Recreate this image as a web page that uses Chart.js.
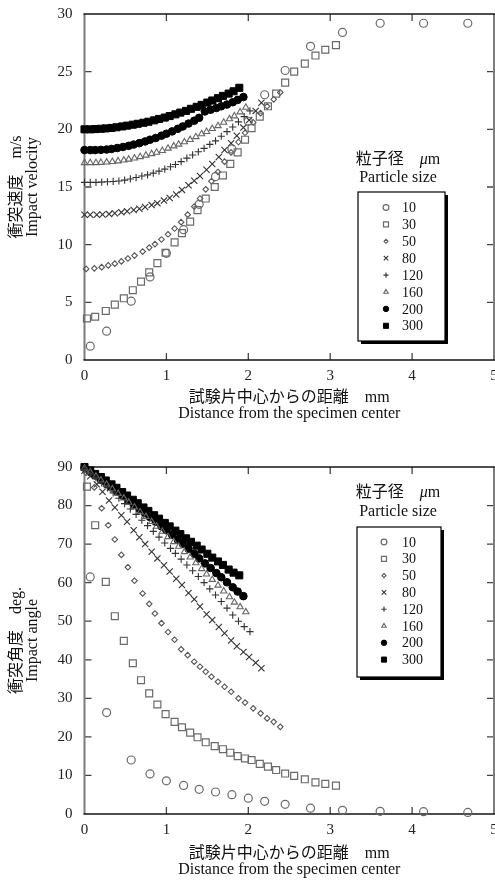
<!DOCTYPE html>
<html>
<head>
<meta charset="utf-8">
<script src="https://cdn.jsdelivr.net/npm/chart.js@4"></script>
<style>
  html, body { margin: 0; padding: 0; background: #fff; }
  body { width: 495px; height: 880px; position: relative; overflow: hidden; }
  canvas { position: absolute; left: 0; }
  #velocity-chart { top: 0; }
  #angle-chart { top: 440px; }
</style>
</head>
<body>
<canvas id="velocity-chart" width="495" height="440"></canvas>
<canvas id="angle-chart" width="495" height="440"></canvas>
<script>
// particle sizes, um
const sizes = ['10', '30', '50', '80', '120', '160', '200', '300'];

// tick values
const distTicks = [0, 1, 2, 3, 4, 5];
const velTicks = [0, 5, 10, 15, 20, 25, 30];
const angTicks = [0, 10, 20, 30, 40, 50, 60, 70, 80, 90];

// distance from specimen center (mm) / impact velocity (m/s) / impact angle (deg)
const dist10 = [0.07, 0.27, 0.57, 0.80, 1.00, 1.21, 1.40, 1.60, 1.80, 2.00, 2.20, 2.45, 2.76, 3.15, 3.61, 4.14, 4.68];
const vel10 = [1.2, 2.5, 5.1, 7.2, 9.25, 11.3, 13.5, 15.9, 18.3, 20.7, 23.0, 25.1, 27.2, 28.4, 29.2, 29.2, 29.2];
const ang10 = [61.5, 26.3, 14.0, 10.4, 8.6, 7.4, 6.4, 5.7, 5.0, 4.1, 3.3, 2.5, 1.5, 0.95, 0.7, 0.6, 0.4];

const dist30 = [0.03, 0.13, 0.26, 0.37, 0.48, 0.59, 0.69, 0.79, 0.89, 0.99, 1.10, 1.19, 1.29, 1.38, 1.48, 1.59, 1.69, 1.78, 1.87, 1.96, 2.04, 2.14, 2.24, 2.34, 2.45, 2.56, 2.69, 2.82, 2.94, 3.07];
const vel30 = [3.6, 3.75, 4.25, 4.8, 5.35, 6.05, 6.8, 7.6, 8.4, 9.3, 10.2, 11.0, 12.0, 13.0, 14.0, 15.0, 16.0, 17.0, 18.0, 19.1, 20.1, 21.1, 22.0, 23.1, 24.05, 25.0, 25.7, 26.4, 26.9, 27.3];
const ang30 = [84.9, 74.9, 60.2, 51.3, 44.9, 39.1, 34.7, 31.3, 28.4, 25.9, 23.9, 22.5, 21.1, 19.9, 18.6, 17.6, 16.8, 15.9, 15.0, 14.4, 14.0, 13.0, 12.3, 11.4, 10.5, 9.9, 9.0, 8.2, 7.8, 7.35];

const dist50 = [0.02, 0.12, 0.21, 0.29, 0.37, 0.45, 0.53, 0.61, 0.71, 0.79, 0.86, 0.94, 1.02, 1.10, 1.18, 1.26, 1.34, 1.41, 1.48, 1.55, 1.63, 1.71, 1.79, 1.88, 1.96, 2.06, 2.15, 2.23, 2.31, 2.39];
const vel50 = [7.9, 7.95, 8.05, 8.2, 8.35, 8.55, 8.8, 9.05, 9.4, 9.75, 10.05, 10.45, 10.9, 11.4, 11.95, 12.6, 13.3, 14.0, 14.8, 15.5, 16.3, 17.2, 18.0, 18.9, 19.7, 20.6, 21.4, 22.0, 22.6, 23.2];
const ang50 = [88.5, 84.7, 79.3, 74.9, 71.2, 67.2, 64.0, 60.5, 57.2, 54.5, 52.0, 49.5, 47.2, 45.2, 42.7, 41.2, 39.5, 38.2, 36.9, 35.6, 34.3, 33.0, 31.7, 30.0, 28.9, 27.4, 26.1, 24.8, 23.9, 22.6];

const dist80 = [0.00, 0.07, 0.15, 0.22, 0.30, 0.37, 0.45, 0.52, 0.60, 0.67, 0.74, 0.82, 0.89, 0.97, 1.04, 1.12, 1.19, 1.27, 1.34, 1.41, 1.49, 1.56, 1.64, 1.71, 1.79, 1.86, 1.94, 2.01, 2.09, 2.16];
const vel80 = [12.6, 12.6, 12.6, 12.62, 12.65, 12.72, 12.8, 12.9, 13.0, 13.12, 13.27, 13.43, 13.6, 13.82, 14.05, 14.35, 14.75, 15.15, 15.55, 15.95, 16.5, 17.0, 17.6, 18.2, 18.8, 19.45, 20.15, 20.8, 21.6, 22.3];
const ang80 = [89.0, 87.6, 85.5, 83.6, 81.3, 79.5, 77.5, 75.8, 73.6, 71.8, 70.0, 68.0, 66.3, 64.5, 62.9, 61.0, 59.4, 57.3, 55.7, 53.8, 51.8, 50.3, 48.5, 46.9, 45.0, 43.5, 42.0, 40.7, 39.2, 37.8];

const dist120 = [0.00, 0.07, 0.14, 0.21, 0.28, 0.35, 0.42, 0.49, 0.56, 0.63, 0.70, 0.77, 0.84, 0.91, 0.98, 1.05, 1.11, 1.18, 1.25, 1.32, 1.39, 1.46, 1.53, 1.60, 1.67, 1.74, 1.81, 1.88, 1.95, 2.02];
const vel120 = [15.4, 15.4, 15.4, 15.42, 15.45, 15.48, 15.52, 15.6, 15.7, 15.82, 15.95, 16.05, 16.2, 16.38, 16.55, 16.75, 16.95, 17.2, 17.5, 17.78, 18.05, 18.35, 18.7, 19.0, 19.4, 19.8, 20.2, 20.65, 21.1, 21.6];
const ang120 = [89.5, 88.4, 87.2, 85.9, 84.6, 83.3, 81.9, 80.5, 79.1, 77.7, 76.2, 74.8, 73.3, 71.8, 70.3, 68.9, 67.6, 66.1, 64.6, 63.1, 61.6, 60.0, 58.4, 56.8, 55.1, 53.4, 51.6, 50.0, 48.6, 47.3];

const dist160 = [0.00, 0.07, 0.14, 0.20, 0.27, 0.34, 0.41, 0.48, 0.54, 0.61, 0.68, 0.75, 0.82, 0.88, 0.95, 1.02, 1.09, 1.15, 1.22, 1.29, 1.36, 1.43, 1.49, 1.56, 1.63, 1.70, 1.77, 1.83, 1.90, 1.97];
const vel160 = [17.1, 17.1, 17.1, 17.12, 17.15, 17.2, 17.25, 17.32, 17.4, 17.5, 17.62, 17.75, 17.88, 18.0, 18.15, 18.35, 18.55, 18.7, 18.9, 19.1, 19.35, 19.6, 19.8, 20.05, 20.3, 20.6, 20.9, 21.15, 21.5, 21.9];
const ang160 = [89.7, 88.7, 87.6, 86.6, 85.5, 84.3, 83.1, 81.9, 80.8, 79.6, 78.3, 77.1, 75.8, 74.6, 73.3, 71.9, 70.6, 69.4, 68.0, 66.6, 65.1, 63.6, 62.2, 60.8, 59.3, 57.8, 56.3, 54.9, 53.7, 52.4];

const dist200 = [0.00, 0.07, 0.13, 0.20, 0.27, 0.33, 0.40, 0.47, 0.54, 0.60, 0.67, 0.74, 0.80, 0.87, 0.94, 1.00, 1.07, 1.14, 1.20, 1.27, 1.34, 1.40, 1.47, 1.54, 1.61, 1.67, 1.74, 1.81, 1.87, 1.94];
const vel200 = [18.2, 18.2, 18.2, 18.22, 18.25, 18.3, 18.38, 18.47, 18.57, 18.68, 18.8, 18.95, 19.1, 19.25, 19.45, 19.62, 19.82, 20.05, 20.25, 20.5, 20.75, 21.0, 21.55, 21.7, 21.85, 22.0, 22.15, 22.35, 22.55, 22.8];
const ang200 = [89.8, 88.7, 87.8, 86.7, 85.6, 84.7, 83.6, 82.5, 81.3, 80.3, 79.2, 78.0, 77.0, 75.8, 74.6, 73.6, 72.4, 71.1, 70.1, 68.8, 67.5, 66.3, 65.0, 63.8, 62.5, 61.4, 60.1, 58.8, 57.7, 56.5];

const dist300 = [0.00, 0.07, 0.13, 0.20, 0.26, 0.33, 0.39, 0.46, 0.52, 0.59, 0.65, 0.72, 0.78, 0.85, 0.91, 0.98, 1.04, 1.11, 1.17, 1.24, 1.30, 1.37, 1.43, 1.50, 1.56, 1.63, 1.69, 1.76, 1.82, 1.89];
const vel300 = [20.0, 20.0, 20.02, 20.05, 20.08, 20.12, 20.18, 20.25, 20.32, 20.4, 20.48, 20.57, 20.66, 20.78, 20.9, 21.02, 21.15, 21.3, 21.45, 21.6, 21.78, 21.95, 22.12, 22.32, 22.5, 22.7, 22.9, 23.1, 23.3, 23.6];
const ang300 = [90.0, 89.1, 88.2, 87.4, 86.5, 85.5, 84.6, 83.5, 82.6, 81.5, 80.6, 79.5, 78.6, 77.5, 76.6, 75.5, 74.6, 73.5, 72.6, 71.5, 70.6, 69.6, 68.6, 67.5, 66.5, 65.5, 64.6, 63.4, 62.6, 61.9];

const distAll = [dist10, dist30, dist50, dist80, dist120, dist160, dist200, dist300];
const velAll = [vel10, vel30, vel50, vel80, vel120, vel160, vel200, vel300];
const angAll = [ang10, ang30, ang50, ang80, ang120, ang160, ang200, ang300];

const FONT = "'Liberation Serif', 'Noto Sans CJK JP', serif";
const CLEAR = 'rgba(0,0,0,0)';

// marker look for each particle size
const markers = {
    '10':  { style: 'circle',   r: 4,   stroke: '#6a6a6a', fill: CLEAR,  w: 1.2 },
    '30':  { style: 'rect',     r: 4.9, stroke: '#6a6a6a', fill: CLEAR,  w: 1.2 },
    '50':  { style: 'rectRot',  r: 2.8, stroke: '#555',    fill: CLEAR,  w: 1.1 },
    '80':  { style: 'crossRot', r: 4.4, stroke: '#333',    fill: CLEAR,  w: 1.1 },
    '120': { style: 'cross',    r: 3.6, stroke: '#333',    fill: CLEAR,  w: 1.1 },
    '160': { style: 'triangle', r: 3.6, stroke: '#666',    fill: CLEAR,  w: 1.1 },
    '200': { style: 'circle',   r: 3.8, stroke: '#000',    fill: '#000', w: 1 },
    '300': { style: 'rect',     r: 5,   stroke: '#000',    fill: '#000', w: 1 }
};

function makeDatasets(ys) {
    return sizes.map((s, i) => {
        const m = markers[s];
        return {
            label: s,
            data: distAll[i].map((x, j) => ({ x: x, y: ys[i][j] })),
            pointStyle: m.style,
            pointRadius: m.r,
            pointHoverRadius: m.r,
            pointBorderColor: m.stroke,
            pointBackgroundColor: m.fill,
            pointBorderWidth: m.w,
            showLine: false,
            clip: false
        };
    });
}

// box around the plot with inward ticks on all four sides
const frameTicks = {
    id: 'frameTicks',
    beforeDatasetsDraw(chart) {
        const { ctx, chartArea: a } = chart;
        const x = chart.scales.x, y = chart.scales.y;
        const len = 7;
        ctx.save();
        ctx.strokeStyle = '#444';
        ctx.lineWidth = 1.3;
        ctx.beginPath();
        x.ticks.forEach(t => {
            if (t.value <= x.min || t.value >= x.max) return;
            const px = x.getPixelForValue(t.value);
            ctx.moveTo(px, a.bottom); ctx.lineTo(px, a.bottom - len);
            ctx.moveTo(px, a.top); ctx.lineTo(px, a.top + len);
        });
        y.ticks.forEach(t => {
            if (t.value <= y.min || t.value >= y.max) return;
            const py = y.getPixelForValue(t.value);
            ctx.moveTo(a.left, py); ctx.lineTo(a.left + len, py);
            ctx.moveTo(a.right, py); ctx.lineTo(a.right - len, py);
        });
        ctx.stroke();

        ctx.strokeStyle = '#7c7c7c';
        ctx.lineWidth = 2;
        ctx.beginPath();
        ctx.moveTo(a.left, a.top); ctx.lineTo(a.left, a.bottom);
        ctx.moveTo(a.right, a.top); ctx.lineTo(a.right, a.bottom);
        ctx.stroke();

        ctx.strokeStyle = '#151515';
        ctx.lineWidth = 1.6;
        ctx.beginPath();
        ctx.moveTo(a.left - 1, a.top); ctx.lineTo(a.right + 1, a.top);
        ctx.moveTo(a.left - 1, a.bottom); ctx.lineTo(a.right + 1, a.bottom);
        ctx.stroke();
        ctx.restore();
    }
};

// particle size key: heading, shadowed box, one row per dataset
const sizeKey = {
    id: 'sizeKey',
    afterDraw(chart, args, opts) {
        const ctx = chart.ctx;
        const b = opts.box;
        ctx.save();
        ctx.fillStyle = '#000';
        ctx.fillRect(b.x + 3, b.y + 3, b.w, b.h);
        ctx.fillStyle = '#fff';
        ctx.fillRect(b.x, b.y, b.w, b.h);
        ctx.strokeStyle = '#000';
        ctx.lineWidth = 1.2;
        ctx.strokeRect(b.x, b.y, b.w, b.h);

        // heading, with the mu in italics
        ctx.fillStyle = '#111';
        ctx.textBaseline = 'middle';
        ctx.textAlign = 'left';
        const normal = `16px ${FONT}`, italic = `italic 16px ${FONT}`;
        ctx.font = normal;
        const wa = ctx.measureText('粒子径　').width;
        const wc = ctx.measureText('m').width;
        ctx.font = italic;
        const wb = ctx.measureText('μ').width;
        let hx = opts.titleX - (wa + wb + wc) / 2;
        ctx.font = normal;
        ctx.fillText('粒子径　', hx, opts.titleY[0]);
        ctx.font = italic;
        ctx.fillText('μ', hx + wa, opts.titleY[0]);
        ctx.font = normal;
        ctx.fillText('m', hx + wa + wb, opts.titleY[0]);
        ctx.textAlign = 'center';
        ctx.fillText('Particle size', opts.titleX, opts.titleY[1]);

        chart.data.datasets.forEach((ds, i) => {
            const ry = opts.rowY + i * opts.rowStep;
            ctx.fillStyle = ds.pointBackgroundColor;
            ctx.strokeStyle = ds.pointBorderColor;
            ctx.lineWidth = ds.pointBorderWidth;
            Chart.helpers.drawPoint(ctx, {
                pointStyle: ds.pointStyle,
                radius: ds.pointRadius * 0.72,
                borderWidth: ds.pointBorderWidth,
                rotation: 0
            }, opts.markX, ry);
            ctx.fillStyle = '#111';
            ctx.textAlign = 'left';
            ctx.font = `14px ${FONT}`;
            ctx.fillText(ds.label, opts.textX, ry + 1);
        });
        ctx.restore();
    }
};

function buildChart(canvasId, ys, yTicks, yMax, yTitle, layout, key) {
    const tickFont = { family: FONT, size: 15 };
    const titleFont = { family: FONT, size: 16, lineHeight: 1 };
    return new Chart(document.getElementById(canvasId), {
        type: 'scatter',
        data: { datasets: makeDatasets(ys) },
        options: {
            responsive: false,
            animation: false,
            events: [],
            layout: { autoPadding: false, padding: { top: layout.top, right: 1, bottom: 0, left: 0 } },
            plugins: {
                legend: { display: false },
                tooltip: { enabled: false },
                sizeKey: key
            },
            scales: {
                x: {
                    type: 'linear', min: 0, max: 5,
                    afterBuildTicks: s => { s.ticks = distTicks.map(v => ({ value: v })); },
                    afterFit: s => { s.height = layout.xHeight; s.paddingLeft = 0; s.paddingRight = 0; },
                    grid: { display: false, drawTicks: false },
                    border: { display: false },
                    ticks: { padding: 7, color: '#222', font: tickFont, maxRotation: 0 },
                    title: {
                        display: true, color: '#111', font: titleFont,
                        text: ['試験片中心からの距離　mm', 'Distance from the specimen center'],
                        padding: { top: 0, bottom: layout.titlePad }
                    }
                },
                y: {
                    type: 'linear', min: 0, max: yMax,
                    afterBuildTicks: s => { s.ticks = yTicks.map(v => ({ value: v })); },
                    afterFit: s => { s.width = 84.5; s.paddingTop = 0; s.paddingBottom = 0; },
                    grid: { display: false, drawTicks: false },
                    border: { display: false },
                    ticks: { padding: 12, color: '#222', font: tickFont },
                    title: {
                        display: true, color: '#111', font: titleFont,
                        text: yTitle,
                        padding: { top: 9, bottom: 0 }
                    }
                }
            }
        },
        plugins: [frameTicks, sizeKey]
    });
}

buildChart('velocity-chart', velAll, velTicks, 30, ['衝突速度　m/s', 'Impact velocity'],
    { top: 14, xHeight: 80, titlePad: 18 },
    { box: { x: 358, y: 192, w: 87, h: 149 }, titleX: 398, titleY: [160, 178],
      rowY: 207.5, rowStep: 16.9, markX: 386, textX: 402 });

buildChart('angle-chart', angAll, angTicks, 90, ['衝突角度　deg.', 'Impact angle'],
    { top: 27, xHeight: 66, titlePad: 2 },
    { box: { x: 357, y: 87, w: 84, h: 150 }, titleX: 398, titleY: [53, 72],
      rowY: 102, rowStep: 16.8, markX: 384, textX: 402 });
</script>
</body>
</html>
